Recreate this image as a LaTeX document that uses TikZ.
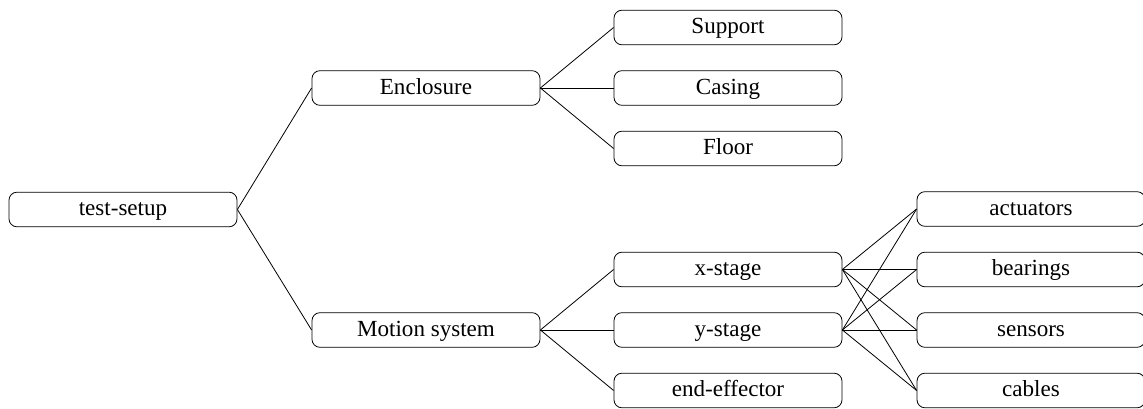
\documentclass[tikz,border=0pt]{standalone}
\usepackage{fontspec}
\setmainfont{Liberation Serif}
\begin{document}
\begin{tikzpicture}[x=0.75pt,y=-0.75pt,
  item/.style={draw, rounded corners=6pt, line width=0.6pt,
    minimum width=171pt, minimum height=26pt, inner sep=0pt,
    text height=12.5pt, text depth=2.8pt,
    font=\fontsize{17.3}{20}\selectfont},
  link/.style={line width=0.6pt}]
\useasboundingbox (0,0) rectangle (1143,409);
% root
\node[item] (root) at (123,209.5) {test-setup};
% first level
\node[item] (enc) at (426,88) {Enclosure};
\node[item] (mot) at (426,330) {Motion system};
% second level
\node[item] (sup) at (728,27.5) {Support};
\node[item] (cas) at (728,88) {Casing};
\node[item] (flo) at (728,148.5) {Floor};
\node[item] (xs) at (728,269.5) {x-stage};
\node[item] (ys) at (728,330) {y-stage};
\node[item] (ee) at (728,390.5) {end-effector};
% components
\node[item] (act) at (1031,209) {actuators};
\node[item] (bea) at (1031,269.5) {bearings};
\node[item] (sen) at (1031,330) {sensors};
\node[item] (cab) at (1031,390.5) {cables};
% connectors
\foreach \a/\b in {root/enc, root/mot, enc/sup, enc/cas, enc/flo,
                   mot/xs, mot/ys, mot/ee}
  \draw[link] (\a.east) -- (\b.west);
\foreach \a in {xs, ys}
  \foreach \b in {act, bea, sen, cab}
    \draw[link] (\a.east) -- (\b.west);
\end{tikzpicture}
\end{document}
